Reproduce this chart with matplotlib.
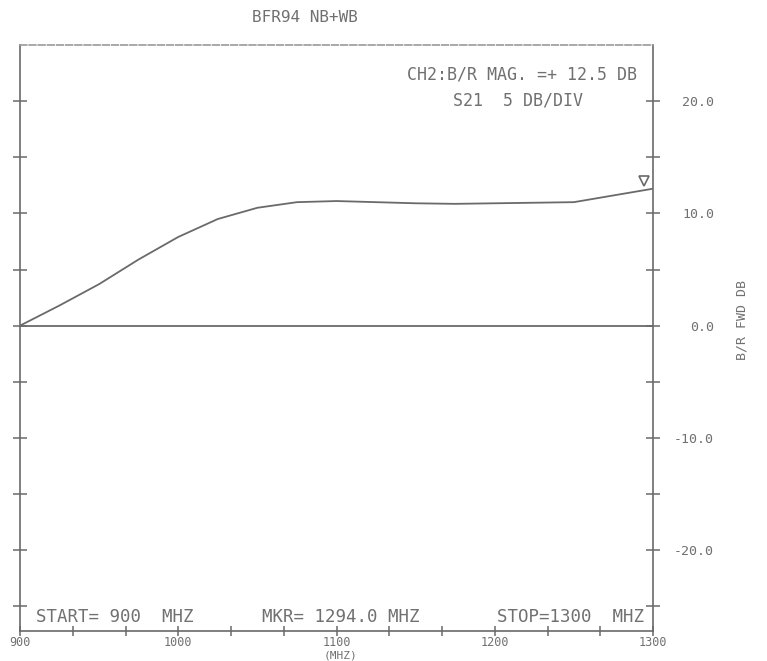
import numpy as np
import matplotlib
matplotlib.use('Agg')
import matplotlib.pyplot as plt
from matplotlib.ticker import FixedLocator

# S21 trace
freq_mhz = [900, 925, 950, 975, 1000, 1025, 1050, 1075, 1100, 1125,
            1150, 1175, 1200, 1225, 1250, 1275, 1300]
s21_db = [0.0, 1.8, 3.7, 5.9, 7.9, 9.5, 10.5, 11.0, 11.1, 11.0,
          10.9, 10.85, 10.9, 10.95, 11.0, 11.6, 12.2]

mkr_freq = 1294.0
mkr_val = 12.9

x_labels = ['900', '1000', '1100', '1200', '1300']
x_major = [900, 1000, 1100, 1200, 1300]
y_major = [-20, -10, 0, 10, 20]
y_labels = ['-20.0', '-10.0', '0.0', '10.0', '20.0']

ink = '#6a6a6a'
txt = '#707070'
mono = 'DejaVu Sans Mono'

fig = plt.figure(figsize=(7.67, 6.61), dpi=100)
ax = fig.add_axes([20/767, 30/661, 633/767, 586/661])

ax.plot(freq_mhz, s21_db, color=ink, lw=1.3)
ax.axhline(0, color=ink, lw=1.3)
ax.plot([mkr_freq], [mkr_val], marker='v', ms=7, mfc='none', mec=ink, mew=1.2)

ax.set_xlim(900, 1300)
ax.set_ylim(-27.2, 25)

for s in ['left', 'right', 'bottom']:
    ax.spines[s].set_color(ink)
    ax.spines[s].set_linewidth(1.2)
ax.spines['top'].set_color('#9a9a9a')
ax.spines['top'].set_linestyle((0, (4, 1.5)))
ax.spines['top'].set_linewidth(1.2)

# x ticks: 12 divisions, labelled every 100 MHz
ax.xaxis.set_major_locator(FixedLocator(x_major))
ax.xaxis.set_minor_locator(FixedLocator(np.linspace(900, 1300, 13)))
ax.set_xticklabels(x_labels, fontsize=8.5, color=txt, family=mono)
ax.tick_params(axis='x', which='both', direction='inout', length=7,
               color=ink, width=1.1, pad=0)

# y ticks on both sides, labels only on the right
ax.yaxis.set_major_locator(FixedLocator(y_major))
ax.yaxis.set_minor_locator(FixedLocator(np.arange(-25, 25, 5)))
ax.set_yticklabels(y_labels, fontsize=9.5, color=txt, family=mono, ha='right')
ax.tick_params(axis='y', which='both', direction='inout', length=10,
               color=ink, width=1.1, left=True, right=True,
               labelleft=False, labelright=True, pad=39)

fig.text(305/767, 1 - 18/661, 'BFR94 NB+WB', ha='center', va='center',
         fontsize=11.5, color=txt, family=mono)
ax.text(0.975, 0.95, 'CH2:B/R MAG. =+ 12.5 DB', transform=ax.transAxes,
        ha='right', va='center', fontsize=12, color=txt, family=mono)
ax.text(0.89, 0.905, 'S21  5 DB/DIV', transform=ax.transAxes,
        ha='right', va='center', fontsize=12, color=txt, family=mono)

ax.text(0.025, 0.024, 'START= 900  MHZ', transform=ax.transAxes,
        ha='left', va='center', fontsize=12.5, color=txt, family=mono)
ax.text(0.383, 0.024, 'MKR= 1294.0 MHZ', transform=ax.transAxes,
        ha='left', va='center', fontsize=12.5, color=txt, family=mono)
ax.text(0.985, 0.024, 'STOP=1300  MHZ', transform=ax.transAxes,
        ha='right', va='center', fontsize=12.5, color=txt, family=mono)

fig.text(340/767, 1 - 655/661, '(MHZ)', ha='center', va='center',
         fontsize=8, color=txt, family=mono)
fig.text(742/767, 1 - 320/661, 'B/R FWD DB', ha='center', va='center',
         rotation=90, fontsize=9.5, color=txt, family=mono)

fig.savefig('out.png', dpi=100)
